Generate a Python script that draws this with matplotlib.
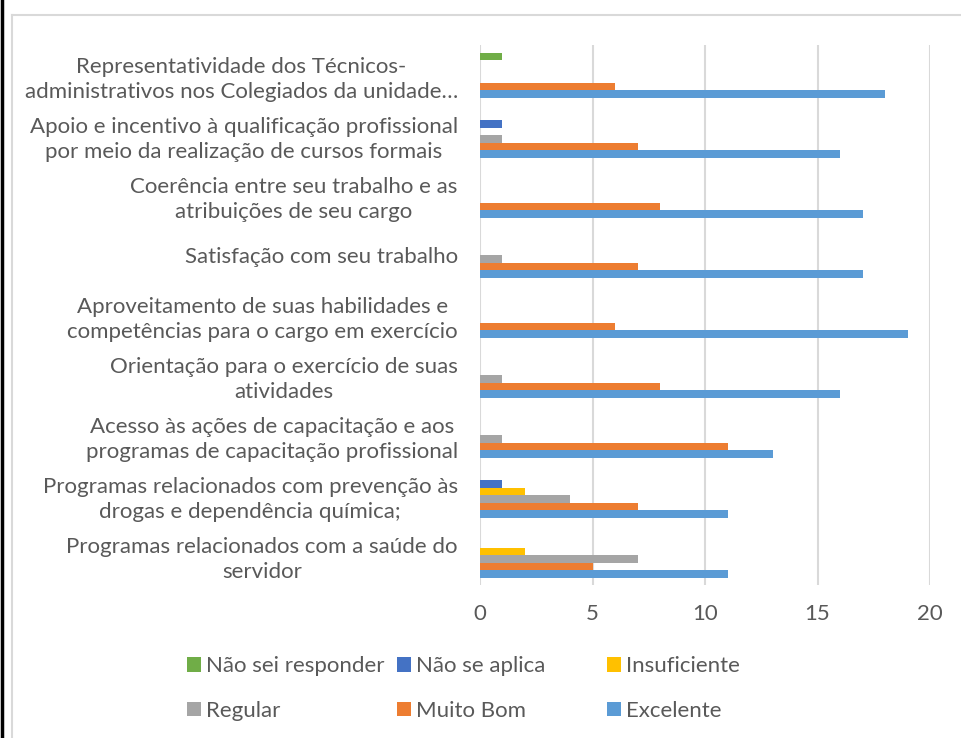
import matplotlib.pyplot as plt
import numpy as np
from matplotlib.lines import Line2D

plt.rcParams['font.family'] = ['Lato', 'DejaVu Sans']

# categories, top to bottom
categories = [
    'Representatividade dos Técnicos-\nadministrativos nos Colegiados da unidade…',
    'Apoio e incentivo à qualificação profissional\npor meio da realização de cursos formais',
    'Coerência entre seu trabalho e as\natribuições de seu cargo',
    'Satisfação com seu trabalho',
    'Aproveitamento de suas habilidades e\ncompetências para o cargo em exercício',
    'Orientação para o exercício de suas\natividades',
    'Acesso às ações de capacitação e aos\nprogramas de capacitação profissional',
    'Programas relacionados com prevenção às\ndrogas e dependência química;',
    'Programas relacionados com a saúde do\nservidor',
]

series_names = ['Não sei responder', 'Não se aplica', 'Insuficiente',
                'Regular', 'Muito Bom', 'Excelente']

nao_sei = [1, 0, 0, 0, 0, 0, 0, 0, 0]
nao_aplica = [0, 1, 0, 0, 0, 0, 0, 1, 0]
insuficiente = [0, 0, 0, 0, 0, 0, 0, 2, 2]
regular = [0, 1, 0, 1, 0, 1, 1, 4, 7]
muito_bom = [6, 7, 8, 7, 6, 8, 11, 7, 5]
excelente = [18, 16, 17, 17, 19, 16, 13, 11, 11]

colors = ['#70AD47', '#4472C4', '#FFC000', '#A5A5A5', '#ED7D31', '#5B9BD5']
text_color = '#595959'

fig = plt.figure(figsize=(9.62, 7.38), dpi=100)
ax = fig.add_axes([480 / 962, 1 - 585 / 738, 450 / 962, 540 / 738])

y = np.arange(len(categories))
bar_h = 0.125
all_series = [nao_sei, nao_aplica, insuficiente, regular, muito_bom, excelente]
handles = []
for j, (vals, name, c) in enumerate(zip(all_series, series_names, colors)):
    offset = -0.375 + bar_h * (j + 0.5)
    b = ax.barh(y + offset, vals, height=bar_h, color=c, label=name, zorder=3)
    handles.append(b)

ax.set_xlim(0, 20)
ax.set_ylim(len(categories) - 0.5, -0.5)
ax.set_xticks([0, 5, 10, 15, 20])
ax.set_yticks(y)
ax.set_yticklabels(categories, ha='right', multialignment='center',
                   linespacing=1.3)
ax.grid(axis='x', color='#D9D9D9', linewidth=1.5, zorder=0)
for s in ax.spines.values():
    s.set_visible(False)
ax.tick_params(axis='both', length=0, colors=text_color)
ax.tick_params(axis='x', labelsize=16, pad=14)
ax.tick_params(axis='y', labelsize=16, pad=16)

# legend: three columns of two entries, placed like the original
legend_x = [187, 397, 607]
for k, px in enumerate(legend_x):
    idx = [k, k + 3]
    fig.legend([handles[i] for i in idx], [series_names[i] for i in idx],
               loc='center left', bbox_to_anchor=(px / 962, 1 - 688.5 / 738),
               frameon=False, fontsize=16, labelcolor=text_color,
               handlelength=0.63, handleheight=0.63, handletextpad=0.22,
               labelspacing=1.1, borderpad=0, borderaxespad=0)

# outer frame lines
fig.add_artist(Line2D([2 / 962, 2 / 962], [0, 1], color='black', linewidth=2.5))
fig.add_artist(Line2D([12 / 962, 12 / 962], [0, 1 - 15 / 738],
                      color='#D9D9D9', linewidth=1.5))
fig.add_artist(Line2D([12 / 962, 1], [1 - 15 / 738, 1 - 15 / 738],
                      color='#D9D9D9', linewidth=1.5))

fig.savefig('out.png', dpi=100)
